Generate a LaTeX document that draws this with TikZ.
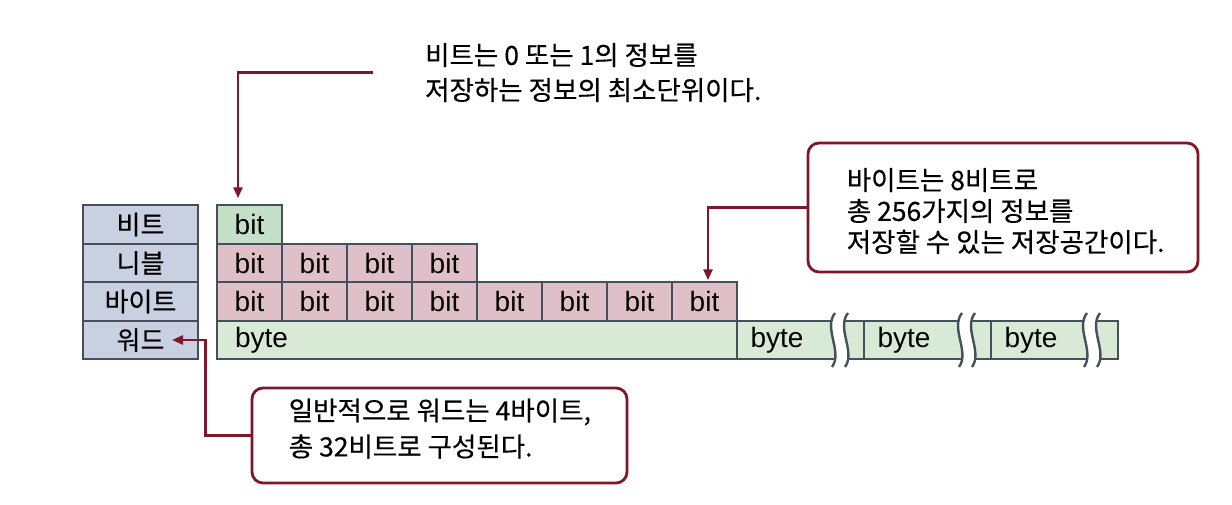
\documentclass[tikz,border=0pt]{standalone}
\usepackage{fontspec}
\setmainfont{Noto Sans CJK KR}[FakeBold=0.3]
\newfontfamily\latinfont{Liberation Sans}
\usetikzlibrary{arrows.meta,positioning,calc}

\definecolor{cellline}{RGB}{70,80,92}
\definecolor{lblfill}{RGB}{200,208,225}
\definecolor{bitgreen}{RGB}{198,224,200}
\definecolor{bitpink}{RGB}{224,192,200}
\definecolor{wordgreen}{RGB}{216,233,214}
\definecolor{callred}{RGB}{128,22,42}

\tikzset{
  cell/.style={draw=cellline, line width=2.2pt, outer sep=0pt, inner sep=0pt,
    minimum height=38.5pt, font=\latinfont\fontsize{28pt}{28pt}\selectfont},
  lblbox/.style={cell, fill=lblfill, minimum width=115pt,
    font=\fontsize{26pt}{26pt}\selectfont},
  bitbox/.style={cell, fill=bitpink, minimum width=65pt},
  wordbox/.style={cell, fill=wordgreen, anchor=west, align=left},
  notebox/.style={draw=callred, line width=2.8pt, rounded corners=11pt, fill=white},
  notetext/.style={align=left, inner sep=0pt, anchor=west},
  callout/.style={draw=callred, line width=2.8pt, -{Triangle[length=11pt,width=9pt]}}
}

% break mark across the byte strip
\newcommand\wavebreak[1]{%
  \begin{scope}[shift={(#1)}]
    \fill[white] (3,-27) .. controls (-9,-12) and (11,12) .. (0,27)
      -- (13,27) .. controls (24,12) and (4,-12) .. (16,-27) -- cycle;
    \draw[cellline, line width=2.4pt] (3,-27) .. controls (-9,-12) and (11,12) .. (0,27);
    \draw[cellline, line width=2.4pt] (16,-27) .. controls (4,-12) and (24,12) .. (13,27);
  \end{scope}}

\begin{document}
\begin{tikzpicture}[x=1pt, y=-1pt]
  \fill[white] (0,0) rectangle (1232,504);
  \useasboundingbox (0,0) rectangle (1232,504);

  %%% labels
  \node[lblbox] (lbl-bit)    at (140.5,224.5) {비트};
  \node[lblbox] (lbl-nibble) at (140.5,263)   {니블};
  \node[lblbox] (lbl-byte)   at (140.5,301.5) {바이트};
  \node[lblbox] (lbl-word)   at (140.5,340)   {워드};

  %%% bit rows
  \node[bitbox, fill=bitgreen] (bit) at (249.5,224.5) {bit};
  \foreach \i in {1,...,4}
    \node[bitbox] (nibble-\i) at ({249.5+65*(\i-1)},263) {bit};
  \foreach \i in {1,...,8}
    \node[bitbox] (byte-\i) at ({249.5+65*(\i-1)},301.5) {bit};

  %%% word row
  \node[wordbox, text width=484pt, inner xsep=18pt] (word-1) at (217,340) {byte};
  \node[wordbox, text width=100pt, inner xsep=13.5pt] (word-2) at (737,340) {byte};
  \node[wordbox, text width=100pt, inner xsep=13.5pt] (word-3) at (864,340) {byte};
  \node[wordbox, text width=100pt, inner xsep=13.5pt] (word-4) at (991,340) {byte};

  \wavebreak{$(word-2.east)+(-32,0)$}
  \wavebreak{$(word-3.east)+(-32,0)$}
  \wavebreak{$(word-4.east)+(-34,0)$}

  %%% notes
  \node[notetext, font=\fontsize{26.5pt}{35pt}\selectfont]
    (bitnote) at (425,72.5) {비트는 0 또는 1의 정보를\\저장하는 정보의 최소단위이다.};
  \node[notebox, minimum width=390pt, minimum height=129pt] (bytenote) at (1003,207.5) {};
  \node[notetext, font=\fontsize{26.5pt}{31pt}\selectfont]
    (bytenote-text) at ($(bytenote.west)+(40,3.5)$)
    {바이트는 8비트로\\총 256가지의 정보를\\저장할 수 있는 저장공간이다.};
  \node[notebox, minimum width=375pt, minimum height=95pt] (wordnote) at (439.5,435.5) {};
  \node[notetext, font=\fontsize{26.5pt}{36pt}\selectfont]
    (wordnote-text) at ($(wordnote.west)+(38,-7)$)
    {일반적으로 워드는 4바이트,\\총 32비트로 구성된다.};

  %%% connectors
  \draw[callout, shorten <=52pt, shorten >=7pt] (bitnote.west) -| ([xshift=-11.5pt]bit.north);
  \draw[callout, shorten >=2pt] (bytenote.west) -| ([xshift=3.5pt]byte-8.north);
  \draw[callout] (wordnote.west) -- ++(-45,0) |- ([xshift=-26pt]lbl-word.east);
\end{tikzpicture}
\end{document}
